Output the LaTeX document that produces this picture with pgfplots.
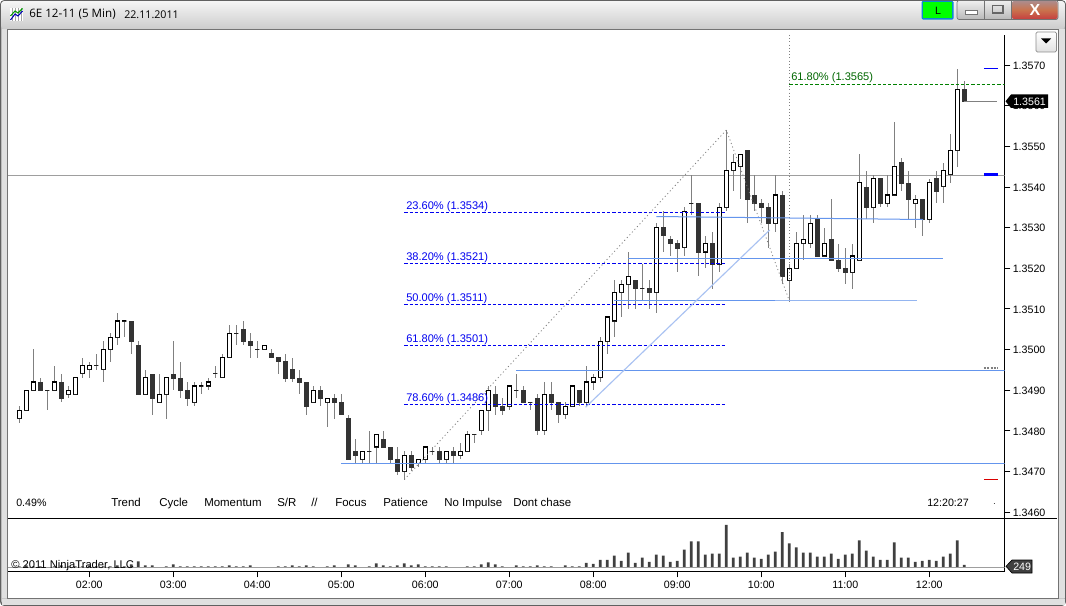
\documentclass[border=0pt]{standalone}
\usepackage{fontspec}
\usepackage{pgfplots}
\usepackage{pgfplotstable}
\pgfplotsset{compat=1.18}
\usepgfplotslibrary{statistics}
\setmainfont{Liberation Sans}
\newfontfamily\titlefont{Open Sans}
\definecolor{candle}{HTML}{333333}
\definecolor{wick}{HTML}{808080}
\definecolor{cfblue}{HTML}{6495ED}
\definecolor{paleblue}{HTML}{A9C2F2}
\definecolor{volbar}{HTML}{404040}
\definecolor{fibblue}{HTML}{0000F0}
\definecolor{fibgreen}{HTML}{008000}

% 5 min bars, o h l c
\pgfplotstableread{
i o h l c
0 1.3483 1.3486 1.3482 1.3485
1 1.3485 1.3490 1.3485 1.3490
2 1.3490 1.3500 1.3490 1.3492
3 1.3492 1.3493 1.3490 1.3490
4 1.3490 1.3490 1.3485 1.3490
5 1.3490 1.3496 1.3490 1.3492
6 1.3492 1.3494 1.3487 1.3488
7 1.3489 1.3491 1.3488 1.3490
8 1.3489 1.3493 1.3489 1.3493
9 1.3494 1.3498 1.3493 1.3496
10 1.3495 1.3497 1.3493 1.3496
11 1.3496 1.3499 1.3495 1.3496
12 1.3495 1.3502 1.3492 1.3500
13 1.3500 1.3504 1.3497 1.3503
14 1.3503 1.3509 1.3501 1.3507
15 1.3507 1.3507 1.3503 1.3507
16 1.3507 1.3507 1.3499 1.3502
17 1.3501 1.3502 1.3489 1.3489
18 1.3489 1.3495 1.3489 1.3493
19 1.3494 1.3494 1.3484 1.3488
20 1.3487 1.3494 1.3487 1.3489
21 1.3489 1.3493 1.3483 1.3493
22 1.3494 1.3502 1.3490 1.3493
23 1.3493 1.3497 1.3488 1.3490
24 1.3490 1.3492 1.3486 1.3488
25 1.3487 1.3492 1.3486 1.3491
26 1.3491 1.3492 1.3489 1.3491
27 1.3491 1.3493 1.3490 1.3492
28 1.3494 1.3496 1.3493 1.3494
29 1.3493 1.3499 1.3493 1.3498
30 1.3498 1.3506 1.3498 1.3504
31 1.3504 1.3506 1.3501 1.3504
32 1.3505 1.3507 1.3501 1.3502
33 1.3502 1.3504 1.3498 1.3501
34 1.3500 1.3502 1.3498 1.3500
35 1.3500 1.3501 1.3500 1.3501
36 1.3499 1.3500 1.3498 1.3498
37 1.3498 1.3498 1.3494 1.3497
38 1.3497 1.3499 1.3492 1.3493
39 1.3495 1.3498 1.3492 1.3493
40 1.3493 1.3495 1.3489 1.3492
41 1.3492 1.3492 1.3484 1.3486
42 1.3487 1.3491 1.3487 1.3490
43 1.3490 1.3491 1.3486 1.3488
44 1.3487 1.3488 1.3481 1.3488
45 1.3488 1.3489 1.3483 1.3487
46 1.3487 1.3489 1.3484 1.3484
47 1.3483 1.3484 1.3473 1.3473
48 1.3475 1.3478 1.3472 1.3474
49 1.3473 1.3475 1.3472 1.3475
50 1.3475 1.3480 1.3472 1.3475
51 1.3476 1.3479 1.3472 1.3479
52 1.3478 1.3480 1.3476 1.3476
53 1.3476 1.3476 1.3472 1.3473
54 1.3473 1.3476 1.3469 1.3470
55 1.3470 1.3475 1.3468 1.3474
56 1.3474 1.3475 1.3470 1.3471
57 1.3472 1.3473 1.3471 1.3473
58 1.3473 1.3476 1.3472 1.3476
59 1.3475 1.3476 1.3474 1.3475
60 1.3475 1.3476 1.3472 1.3473
61 1.3473 1.3475 1.3472 1.3475
62 1.3475 1.3476 1.3472 1.3474
63 1.3474 1.3477 1.3473 1.3475
64 1.3475 1.3480 1.3475 1.3479
65 1.3479 1.3479 1.3477 1.3479
66 1.3480 1.3485 1.3479 1.3485
67 1.3485 1.3491 1.3480 1.3490
68 1.3489 1.3491 1.3484 1.3486
69 1.3486 1.3488 1.3484 1.3485
70 1.3486 1.3491 1.3485 1.3491
71 1.3490 1.3494 1.3488 1.3490
72 1.3490 1.3491 1.3487 1.3487
73 1.3487 1.3487 1.3485 1.3487
74 1.3488 1.3489 1.3479 1.3480
75 1.3480 1.3492 1.3479 1.3489
76 1.3489 1.3492 1.3485 1.3487
77 1.3487 1.3487 1.3482 1.3484
78 1.3484 1.3487 1.3483 1.3486
79 1.3486 1.3491 1.3486 1.3491
80 1.3490 1.3490 1.3486 1.3487
81 1.3487 1.3496 1.3486 1.3492
82 1.3492 1.3494 1.3490 1.3493
83 1.3493 1.3503 1.3492 1.3502
84 1.3502 1.3508 1.3499 1.3508
85 1.3507 1.3517 1.3503 1.3514
86 1.3514 1.3517 1.3508 1.3516
87 1.3516 1.3524 1.3510 1.3518
88 1.3517 1.3517 1.3510 1.3515
89 1.3515 1.3521 1.3512 1.3515
90 1.3515 1.3517 1.3510 1.3514
91 1.3514 1.3531 1.3509 1.3530
92 1.3530 1.3534 1.3524 1.3528
93 1.3527 1.3528 1.3523 1.3526
94 1.3526 1.3527 1.3519 1.3525
95 1.3525 1.3535 1.3523 1.3534
96 1.3536 1.3543 1.3533 1.3536
97 1.3536 1.3536 1.3518 1.3524
98 1.3524 1.3528 1.3520 1.3526
99 1.3526 1.3529 1.3515 1.3521
100 1.3521 1.3536 1.3519 1.3535
101 1.3535 1.3554 1.3534 1.3544
102 1.3544 1.3548 1.3539 1.3546
103 1.3545 1.3548 1.3537 1.3548
104 1.3549 1.3549 1.3531 1.3537
105 1.3538 1.3543 1.3534 1.3536
106 1.3536 1.3537 1.3531 1.3535
107 1.3535 1.3536 1.3525 1.3531
108 1.3531 1.3543 1.3529 1.3538
109 1.3538 1.3539 1.3516 1.3518
110 1.3517 1.3521 1.3512 1.3520
111 1.3520 1.3529 1.3520 1.3526
112 1.3526 1.3533 1.3522 1.3527
113 1.3526 1.3533 1.3525 1.3531
114 1.3532 1.3533 1.3523 1.3523
115 1.3523 1.3530 1.3523 1.3526
116 1.3527 1.3537 1.3522 1.3522
117 1.3522 1.3526 1.3519 1.3520
118 1.3520 1.3525 1.3516 1.3519
119 1.3519 1.3526 1.3515 1.3523
120 1.3522 1.3548 1.3522 1.3541
121 1.3540 1.3544 1.3532 1.3535
122 1.3535 1.3543 1.3531 1.3542
123 1.3542 1.3542 1.3535 1.3536
124 1.3536 1.3543 1.3535 1.3538
125 1.3538 1.3556 1.3538 1.3545
126 1.3546 1.3547 1.3539 1.3541
127 1.3541 1.3544 1.3532 1.3537
128 1.3536 1.3538 1.3530 1.3537
129 1.3537 1.3537 1.3528 1.3532
130 1.3532 1.3542 1.3531 1.3541
131 1.3542 1.3544 1.3536 1.3539
132 1.3540 1.3546 1.3536 1.3544
133 1.3543 1.3553 1.3541 1.3549
134 1.3549 1.3569 1.3545 1.3564
135 1.3564 1.3566 1.3561 1.3561
}\bars

\pgfplotstableread{
i v
0 100
1 200
2 100
3 100
5 100
6 200
7 100
8 100
9 100
10 200
11 100
12 100
13 100
14 200
15 100
16 300
17 600
18 200
19 200
21 100
22 300
23 100
24 100
25 100
26 100
27 100
28 100
29 100
30 200
31 100
32 100
33 200
37 100
38 100
39 200
40 100
41 200
42 100
44 100
45 200
47 300
48 200
50 100
51 400
52 200
53 100
54 200
55 400
56 200
57 300
58 100
59 100
60 100
61 100
64 100
65 100
66 300
67 500
68 300
69 100
71 200
72 100
73 100
74 200
75 100
76 100
78 200
79 100
80 100
81 455
82 350
83 770
84 770
85 1190
86 665
87 1505
88 455
89 980
90 560
91 1295
92 1190
93 560
94 665
95 1820
96 2660
97 2660
98 1295
99 1400
100 1400
101 4340
102 980
103 1085
104 1505
105 980
106 875
107 1295
108 1610
109 3605
110 2450
111 2030
112 1505
113 1505
114 1085
115 1085
116 1400
117 875
118 1295
119 1400
120 2765
121 1715
122 1085
123 770
124 770
125 2555
126 980
127 980
128 560
129 665
130 770
131 665
132 1085
133 1400
134 2765
135 249
}\volumes

\pgfplotsset{
  up/.style={draw=black,fill=white,line width=.85pt},
  dn/.style={draw=candle,fill=candle,line width=.5pt},
  fib/.style={fibblue,line width=.75pt,dash pattern=on 2.4pt off 1.5pt},
  level/.style={cfblue,line width=.75pt},
}

\begin{document}
\begin{tikzpicture}[font=\fontsize{8}{10}\selectfont]
% window frame
\begin{scope}[x=.75pt,y=-.75pt]
\path[use as bounding box] (0,0) rectangle (1066,606);
\fill[white] (0,0) rectangle (1066,606);
\fill[rounded corners=3pt,fill=black!22] (0,0) rectangle (1066,606);
\draw[rounded corners=3pt,black!62,line width=.9pt] (.6,.6) rectangle (1065.4,605.4);
\shade[top color=black!4,bottom color=black!20,rounded corners=2pt] (1.2,1.2) rectangle (1064.8,29);
\fill[black!12] (1.5,29) rectangle (6.5,598);
\fill[black!12] (1059,29) rectangle (1064.5,598);
\fill[black!12] (1.5,599) rectangle (1064.5,604.5);
\fill[white] (7.5,30) rectangle (1058,598);
\draw[black!55,line width=.75pt] (7.5,30) rectangle (1058,598);
% title icon
\fill[white] (10,8) rectangle (23,21);
\draw[black!35,line width=.3pt] (10,8) grid[step=3] (23,21);
\draw[blue!70!black,line width=.8pt] (10.5,20) -- (15,14) -- (18,16) -- (22.5,11);
\draw[green!60!black,line width=.8pt] (10.5,16) -- (15,11) -- (18,13) -- (22.5,8.5);
\node[anchor=west,inner sep=0,font=\titlefont\fontsize{8.7}{10}\selectfont] at (29,14.5) {6E 12-11 (5 Min)};
\node[anchor=west,inner sep=0,font=\titlefont\fontsize{8}{10}\selectfont] at (124,14.5) {22.11.2011};
% window buttons
\fill[cyan!70!blue,rounded corners=1pt] (921.5,.8) rectangle (953.5,19.6);
\fill[green] (923,2) rectangle (952,18);
\node[inner sep=0] at (938,10.5) {L};
\shade[top color=black!6,bottom color=black!28,rounded corners=1.5pt,draw=black!55,line width=.5pt] (957,.5) rectangle (1058,19.5);
\draw[black!55,line width=.5pt] (984.5,.5) -- (984.5,19.5) (1011.5,.5) -- (1011.5,19.5);
\shade[top color=red!28!black!45,bottom color=red!70!black!75,middle color=orange!60!red!70!black!70,rounded corners=1.5pt] (1012,1) rectangle (1057.5,19);
\fill[white,draw=black!55,line width=.4pt] (965,10.5) rectangle (977,14.5);
\draw[black!60,line width=.9pt] (992.5,5.5) rectangle (1003,13);
\node[inner sep=0,text=white,font=\bfseries\fontsize{12}{12}\selectfont] at (1035,9.5) {X};
\end{scope}

% price pane
\begin{axis}[
  at={(6pt,-388.725pt)},anchor=south west,
  scale only axis,width=747.375pt,height=362.475pt,
  xmin=-1.614,xmax=140.74,
  ymin=1.345846,ymax=1.357738,
  axis x line=none,axis y line=right,
  axis line style={-,line width=.75pt},
  ytick={1.346,1.347,1.348,1.349,1.350,1.351,1.352,1.353,1.354,1.355,1.356,1.357},
  yticklabels={1.3460,1.3470,1.3480,1.3490,1.3500,1.3510,1.3520,1.3530,1.3540,1.3550,1.3560,1.3570},
  tick align=outside,major tick length=4.3pt,
  tick style={black,line width=.6pt},
  yticklabel style={inner sep=0pt,anchor=west,xshift=1.7pt,yshift=-.5pt,font=\fontsize{8}{10}\selectfont},
  boxplot/draw direction=y,
  boxplot/box extend=.6,
  boxplot/whisker extend=0,
  boxplot/every whisker/.style={draw=wick,fill=none,line width=.7pt},
  boxplot/every median/.style={draw=none},
]
% full width grey line stays behind the bars
\addplot[black!38,line width=.75pt,forget plot] coordinates {(-1.614,1.354281) (140.74,1.354281)};
\pgfplotsinvokeforeach{0,...,135}{
  \pgfplotstablegetelem{#1}{o}\of\bars\edef\vo{\pgfplotsretval}
  \pgfplotstablegetelem{#1}{h}\of\bars\edef\vh{\pgfplotsretval}
  \pgfplotstablegetelem{#1}{l}\of\bars\edef\vl{\pgfplotsretval}
  \pgfplotstablegetelem{#1}{c}\of\bars\edef\vc{\pgfplotsretval}
  \ifdim\vc pt<\vo pt
    \def\sty{dn}\let\vb\vc\let\vt\vo
  \else
    \def\sty{up}\let\vb\vo\let\vt\vc
  \fi
  \edef\tmp{\noexpand\addplot[forget plot,\sty,boxplot prepared={draw position=#1,lower whisker=\vl,lower quartile=\vb,median=\vb,upper quartile=\vt,upper whisker=\vh}] coordinates {};}
  \tmp
}
% fibonacci levels, kept on the pixel rows of the screenshot
\addplot[fib] coordinates {(55,1.353370) (101,1.353370)};
\addplot[fib] coordinates {(55,1.352116) (101,1.352116)};
\addplot[fib] coordinates {(55,1.351107) (101,1.351107)};
\addplot[fib] coordinates {(55,1.350098) (101,1.350098)};
\addplot[fib] coordinates {(55,1.348646) (101,1.348646)};
\addplot[fibgreen,line width=.75pt,dash pattern=on 2.4pt off 1.5pt] coordinates {(110,1.356520) (140.74,1.356520)};
% swing lines
\addplot[black!50,line width=.6pt,dash pattern=on .8pt off 2pt] coordinates {(55,1.3468) (101,1.3554) (110,1.3512)};
\addplot[black!50,line width=.6pt,dash pattern=on .8pt off 1.6pt] coordinates {(110,1.357738) (110,1.3512)};
% drawn levels
\addplot[level] coordinates {(71,1.349483) (140.74,1.349483)};
\addplot[level] coordinates {(46,1.347195) (140.74,1.347195)};
\addplot[level] coordinates {(91,1.353272) (129.1,1.353198)};
\addplot[level] coordinates {(87,1.352239) (132,1.352239)};
\addplot[level] coordinates {(85,1.351205) (108,1.351205)};
\addplot[paleblue!70!cfblue,line width=.75pt] coordinates {(108,1.351205) (128.2,1.351205)};
\addplot[paleblue,line width=.85pt] coordinates {(80.9,1.34858) (107.2,1.35294)};
% right side markers
\addplot[blue,line width=.75pt] coordinates {(137.8,1.356914) (139.8,1.356914)};
\addplot[blue,line width=1.8pt] coordinates {(137.8,1.354303) (139.8,1.354303)};
\addplot[black!50,line width=1.4pt,dash pattern=on 1.5pt off 1pt] coordinates {(137.8,1.34955) (139.8,1.34955)};
\addplot[red!85!black,line width=.75pt] coordinates {(137.8,1.346801) (139.8,1.346801)};
\addplot[black!70,line width=.8pt] coordinates {(139.2,1.3462) (139.4,1.3462)};
\addplot[wick,line width=.75pt] coordinates {(135,1.3561) (139.7,1.3561)};
\end{axis}

% volume pane
\begin{axis}[
  at={(6pt,-428.475pt)},anchor=south west,
  scale only axis,width=747.375pt,height=39.75pt,
  xmin=-1.614,xmax=140.74,
  ymin=-410,ymax=5018,
  axis x line=bottom,axis y line=right,
  axis line style={-,line width=.75pt},
  ytick=\empty,
  xtick={10,22,34,46,58,70,82,94,106,118,130},
  xticklabels={02:00,03:00,04:00,05:00,06:00,07:00,08:00,09:00,10:00,11:00,12:00},
  tick align=outside,major tick length=4.5pt,
  tick style={black,line width=.6pt},
  xticklabel style={inner sep=0pt,anchor=north,yshift=-2.3pt,font=\fontsize{8}{10}\selectfont},
]
\addplot[ybar,bar width=2.1pt,bar shift=0pt,fill=volbar,draw=none] table[x=i,y=v] {\volumes};
\addplot[black!38,line width=.9pt] coordinates {(-1.614,0) (140.74,0)};
\end{axis}

% texts and tags on top
\begin{scope}[x=.75pt,y=-.75pt,every node/.style={inner sep=0,anchor=base west}]
\draw[black,line width=.75pt] (8,518.3) -- (1057,518.3);
\begin{scope}[font=\fontsize{8.6}{10}\selectfont]
\foreach \xx/\txt in {111/Trend,159/Cycle,204/Momentum,277/{S/R},311/{//},335/Focus,383/Patience,444/No Impulse,513/Dont chase}
  \node at (\xx,506) {\txt};
\end{scope}
\node at (16,506) {0.49\%};
\node at (927,506) {12:20:27};
\node[font=\fontsize{8.4}{10}\selectfont] at (11,568) {\textcopyright\ 2011 NinjaTrader, LLC};
\begin{scope}[font=\fontsize{8.3}{10}\selectfont]
\node[text=fibblue] at (406,209) {23.60\% (1.3534)};
\node[text=fibblue] at (406,260) {38.20\% (1.3521)};
\node[text=fibblue] at (406,301) {50.00\% (1.3511)};
\node[text=fibblue] at (406,342) {61.80\% (1.3501)};
\node[text=fibblue] at (406,401) {78.60\% (1.3486)};
\node[text=fibgreen!80!black] at (791,81) {61.80\% (1.3565)};
\end{scope}
\fill[black] (1005.5,101.3) -- (1011,94.5) -- (1048,94.5) -- (1048,108) -- (1011,108) -- cycle;
\node[text=white] at (1013,105.3) {1.3561};
\fill[black!75,draw=black,line width=.5pt] (1006,566.3) -- (1012,560) -- (1032,560) -- (1032,573) -- (1012,573) -- cycle;
\node[text=white] at (1013,570.5) {249};
% chart menu button
\shade[top color=white,bottom color=black!12,draw=black!45,line width=.5pt,rounded corners=1pt] (1036,32) rectangle (1056.5,52);
\fill[black] (1041,38.5) -- (1051,38.5) -- (1046,43.5) -- cycle;
\end{scope}
\end{tikzpicture}
\end{document}
